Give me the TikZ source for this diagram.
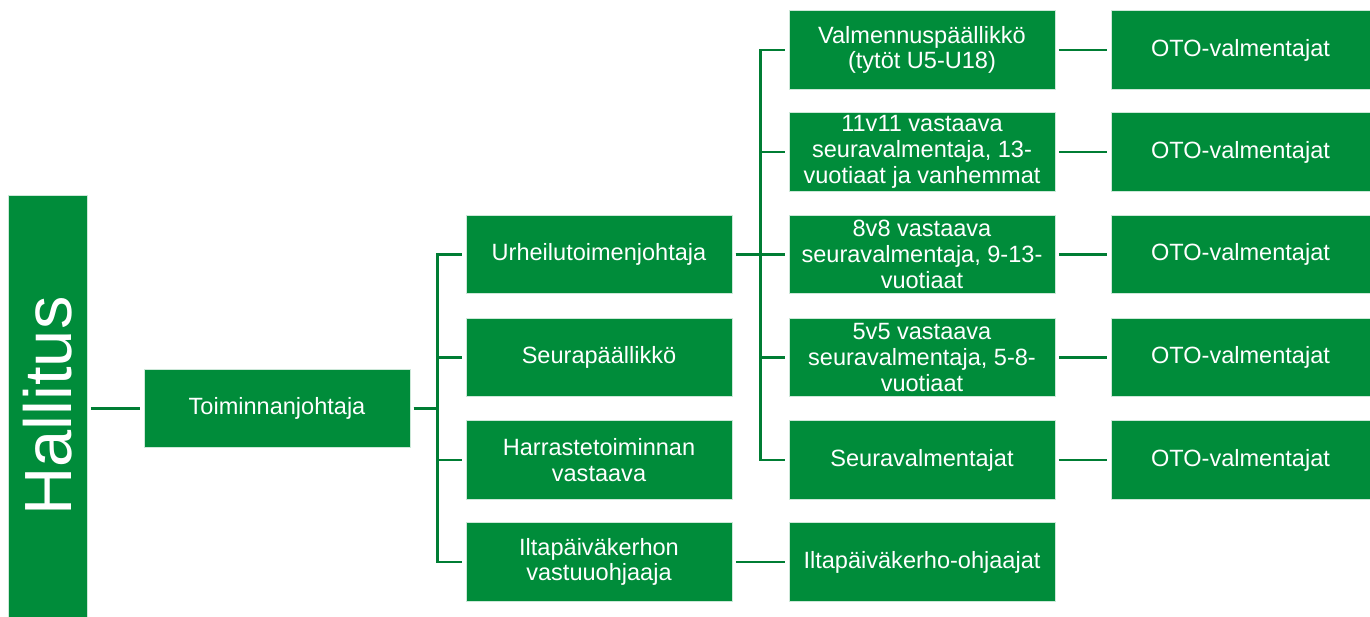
\documentclass[tikz,border=0pt]{standalone}
\usepackage{fontspec}
\setmainfont{Liberation Sans}
\usepackage{xcolor}
\definecolor{boxgreen}{RGB}{0, 140, 58}
\definecolor{linegreen}{RGB}{0, 125, 52}

\begin{document}
\begin{tikzpicture}[x=0.02cm, y=-0.02cm,
    box/.style={fill=boxgreen, draw=white!80!boxgreen, line width=0.4pt, text=white,
      minimum width=5.32cm, minimum height=1.57cm, align=center, inner sep=0pt,
      font=\fontsize{13.4}{14.6}\selectfont},
    conn/.style={draw=linegreen, line width=1.4pt, shorten <=2pt, shorten >=2pt}]
      \useasboundingbox (0,0) rectangle (1370,617);

      % board and director
      \node[box, rotate=90, minimum width=8.44cm, minimum height=1.58cm,
        font=\fontsize{38}{40}\selectfont] (hallitus) at (47.5,406) {Hallitus};
      \node[box] (toimjoht) at (277,408.5) {Toiminnanjohtaja};

      % second level
      \node[box] (urheilu) at (599,254.5) {Urheilutoimenjohtaja};
      \node[box] (seura) at (599,357.5) {Seurapäällikkö};
      \node[box] (harraste) at (599,460) {Harrastetoiminnan\\vastaava};
      \node[box] (iltavast) at (599,562) {Iltapäiväkerhon\\vastuuohjaaja};

      % third level
      \node[box] (valmpaal) at (922,50) {Valmennuspäällikkö\\(tytöt U5-U18)};
      \node[box] (v11) at (922,152) {11v11 vastaava\\seuravalmentaja, 13-\\vuotiaat ja vanhemmat};
      \node[box] (v8) at (922,254.5) {8v8 vastaava\\seuravalmentaja, 9-13-\\vuotiaat};
      \node[box] (v5) at (922,357.5) {5v5 vastaava\\seuravalmentaja, 5-8-\\vuotiaat};
      \node[box] (seuravalm) at (922,460) {Seuravalmentajat};
      \node[box] (iltaohj) at (922,562) {Iltapäiväkerho-ohjaajat};

      % coaches
      \node[box, minimum width=5.18cm] (oto1) at (1240.5,50) {OTO-valmentajat};
      \node[box, minimum width=5.18cm] (oto2) at (1240.5,152) {OTO-valmentajat};
      \node[box, minimum width=5.18cm] (oto3) at (1240.5,254.5) {OTO-valmentajat};
      \node[box, minimum width=5.18cm] (oto4) at (1240.5,357.5) {OTO-valmentajat};
      \node[box, minimum width=5.18cm] (oto5) at (1240.5,460) {OTO-valmentajat};

      \draw[conn] (hallitus.south |- toimjoht.west) -- (toimjoht.west);

      \foreach \n in {urheilu, seura, harraste, iltavast}
        \draw[conn] (toimjoht.east) -- ++(27,0) |- (\n.west);

      \foreach \n in {valmpaal, v11, v8, v5, seuravalm}
        \draw[conn] (urheilu.east) -- ++(28,0) |- (\n.west);

      \draw[conn] (valmpaal) -- (oto1);
      \draw[conn] (v11) -- (oto2);
      \draw[conn] (v8) -- (oto3);
      \draw[conn] (v5) -- (oto4);
      \draw[conn] (seuravalm) -- (oto5);
      \draw[conn] (iltavast) -- (iltaohj);

\end{tikzpicture}
\end{document}
